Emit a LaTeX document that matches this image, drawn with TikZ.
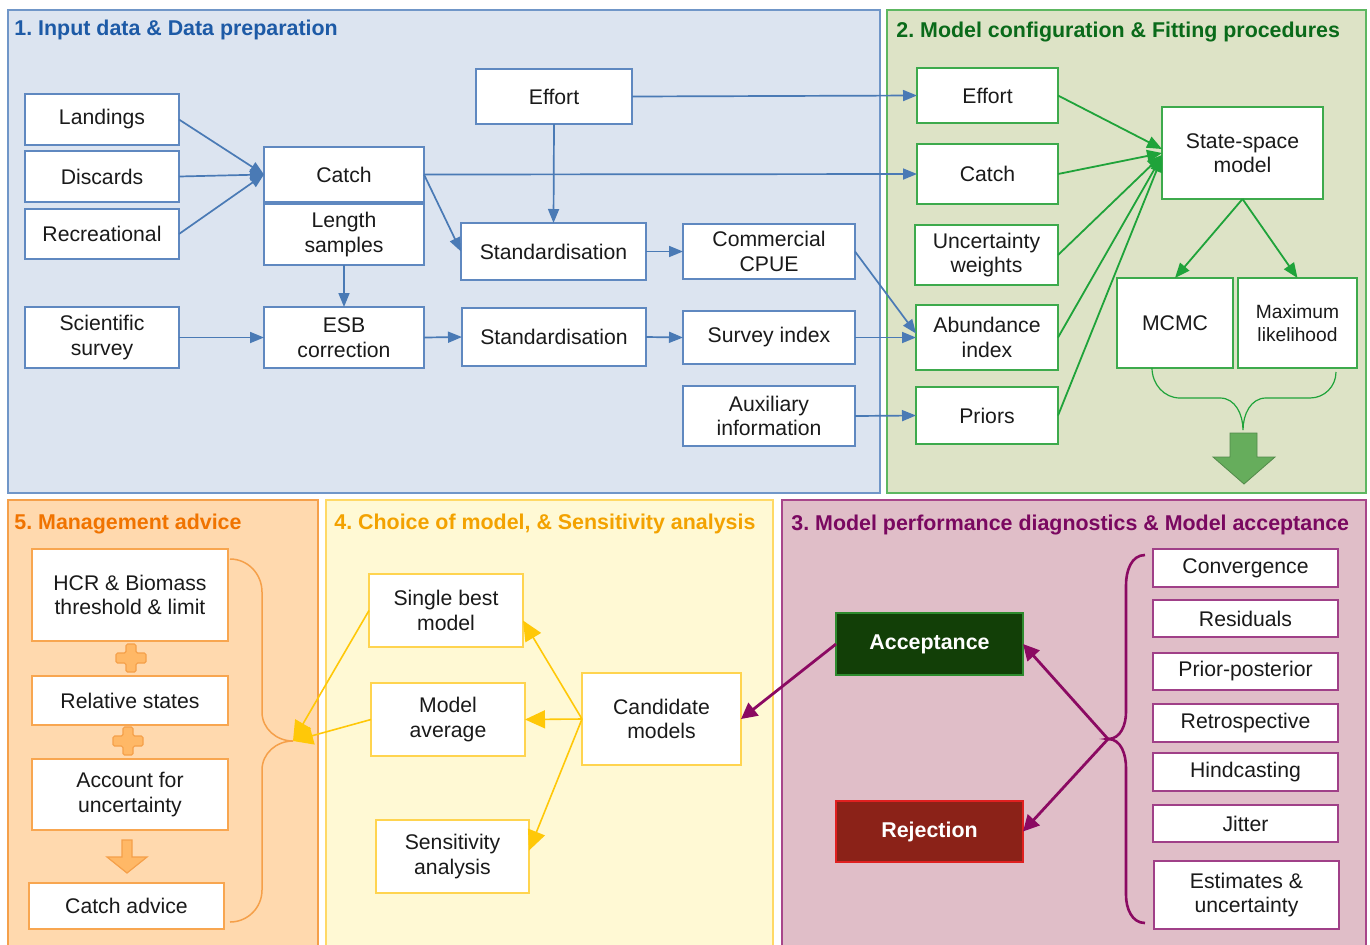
\documentclass[tikz,border=0pt]{standalone}
\usepackage{fontspec}
\setmainfont{Liberation Sans}
\usetikzlibrary{arrows.meta}
\frenchspacing
\definecolor{pAfill}{HTML}{DCE4F0}\definecolor{pAline}{HTML}{7096C8}
\definecolor{pAtxt}{HTML}{1D5AA6}\definecolor{bBox}{HTML}{5F88C0}\definecolor{bArr}{HTML}{4A7AB5}
\definecolor{pBfill}{HTML}{DDE3C6}\definecolor{pBline}{HTML}{5DB761}
\definecolor{pBtxt}{HTML}{0A6A1A}\definecolor{gBox}{HTML}{3DAA4C}\definecolor{gArr}{HTML}{1FA33A}
\definecolor{gBig}{HTML}{66AD5C}
\definecolor{pEfill}{HTML}{FFD9AE}\definecolor{pEline}{HTML}{F5A04A}
\definecolor{pEtxt}{HTML}{F07300}\definecolor{oBox}{HTML}{F8A650}\definecolor{oFill}{HTML}{FFB866}
\definecolor{pDfill}{HTML}{FFF9D4}\definecolor{pDline}{HTML}{FFD966}
\definecolor{pDtxt}{HTML}{F3A200}\definecolor{yBox}{HTML}{FFD44F}\definecolor{yArr}{HTML}{FFC808}
\definecolor{pCfill}{HTML}{E0BEC8}\definecolor{pCline}{HTML}{A8468A}
\definecolor{pCtxt}{HTML}{7A0860}\definecolor{mBox}{HTML}{A04088}\definecolor{mArr}{HTML}{8B0A62}
\definecolor{accFill}{HTML}{123F07}\definecolor{accLine}{HTML}{2E8B2E}
\definecolor{rejFill}{HTML}{8B2218}\definecolor{rejLine}{HTML}{E02020}
\definecolor{txt}{HTML}{1A1A1A}
\newcommand\mkbox[7][]{%
  \pgfmathsetmacro\mkbcx{(#3+#5)/2}\pgfmathsetmacro\mkbcy{(#4+#6)/2}%
  \pgfmathsetmacro\mkbw{(#5-#3)*0.5}\pgfmathsetmacro\mkbh{(#6-#4)*0.5}%
  \node[boxbase,#1,minimum width=\mkbw pt,minimum height=\mkbh pt] (#2) at (\mkbcx,\mkbcy) {#7};}
\begin{document}
\begin{tikzpicture}[x=0.5pt,y=-0.5pt,
  boxbase/.style={rectangle,fill=white,inner sep=0pt,outer sep=0pt,align=center,
     text=txt,font=\fontsize{10.6}{12.2}\selectfont,line width=0.6pt},
  bluebox/.style={draw=bBox},
  greenbox/.style={draw=gBox},
  orangebox/.style={draw=oBox},
  yellowbox/.style={draw=yBox},
  pinkbox/.style={draw=mBox},
  paneltitle/.style={anchor=base west,inner sep=0pt,font=\fontsize{10.7}{12}\selectfont\bfseries},
  barr/.style={draw=bArr,line width=0.85pt,-{Triangle[length=7pt,width=5.5pt]},fill=bArr},
  garr/.style={draw=gArr,line width=0.9pt,-{Triangle[length=7.5pt,width=6pt]},fill=gArr},
  yarr/.style={draw=yArr,line width=0.8pt,-{Triangle[length=10pt,width=9pt]},fill=yArr},
  parr/.style={draw=mArr,line width=1.4pt,-{Triangle[length=8pt,width=8pt]},fill=mArr},
  plusst/.style={draw=pEline,fill=oFill,line width=0.6pt,rounded corners=0.8pt}]
\useasboundingbox (0,0) rectangle (1370,944);
\fill[white] (0,0) rectangle (1370,944);
% panels
\draw[fill=pAfill,draw=pAline,line width=0.75pt] (8,10) rectangle (880,493);
\draw[fill=pBfill,draw=pBline,line width=0.75pt] (887,10) rectangle (1366,493);
\draw[fill=pEfill,draw=pEline,line width=0.75pt] (8,500) rectangle (318,946);
\draw[fill=pDfill,draw=pDline,line width=0.75pt] (326,500) rectangle (773,946);
\draw[fill=pCfill,draw=pCline,line width=0.75pt] (782,500) rectangle (1366,946);
\node[paneltitle,text=pAtxt] (t1) at (14,35) {1. Input data \& Data preparation};
\node[paneltitle,text=pBtxt] (t2) at (896,37) {2. Model configuration \& Fitting procedures};
\node[paneltitle,text=pEtxt] (t5) at (14,529) {5. Management advice};
\node[paneltitle,text=pDtxt] (t4) at (334,529) {4. Choice of model, \& Sensitivity analysis};
\node[paneltitle,text=pCtxt] (t3) at (791,530) {3. Model performance diagnostics \& Model acceptance};
% panel 1
\mkbox[bluebox]{land}{25}{94}{179}{145}{Landings}
\mkbox[bluebox]{disc}{25}{151}{179}{202}{Discards}
\mkbox[bluebox]{recr}{25}{209}{179}{259}{Recreational}
\mkbox[bluebox]{catch}{264}{147}{424}{202}{Catch}
\mkbox[bluebox]{len}{264}{204}{424}{265}{Length\\samples}
\mkbox[bluebox]{sci}{25}{307}{179}{368}{Scientific\\survey}
\mkbox[bluebox]{esb}{264}{307}{424}{368}{ESB\\correction}
\mkbox[bluebox]{eff}{476}{69}{632}{124}{Effort}
\mkbox[bluebox]{std1}{461}{223}{646}{280}{Standardisation}
\mkbox[bluebox]{cpue}{683}{224}{855}{279}{Commercial\\CPUE}
\mkbox[bluebox]{std2}{462}{308}{646}{366}{Standardisation}
\mkbox[bluebox]{surv}{683}{311}{855}{364}{Survey index}
\mkbox[bluebox]{aux}{683}{386}{855}{446}{Auxiliary\\information}
% panel 2
\mkbox[greenbox]{eff2}{917}{68}{1058}{123}{Effort}
\mkbox[greenbox]{catch2}{917}{144}{1058}{204}{Catch}
\mkbox[greenbox]{unc}{915}{225}{1058}{285}{Uncertainty\\weights}
\mkbox[greenbox]{abund}{916}{305}{1058}{370}{Abundance\\index}
\mkbox[greenbox]{pri}{916}{387}{1058}{444}{Priors}
\mkbox[greenbox]{ssm}{1162}{107}{1323}{199}{State-space\\model}
\mkbox[greenbox]{mcmc}{1117}{278}{1233}{368}{MCMC}
\mkbox[greenbox,font=\fontsize{9.6}{11.4}\selectfont]{ml}{1238}{278}{1357}{368}{Maximum\\likelihood}
% panel 5
\mkbox[orangebox]{hcr}{32}{549}{228}{641}{HCR \& Biomass\\threshold \& limit}
\mkbox[orangebox]{rel}{32}{676}{228}{725}{Relative states}
\mkbox[orangebox]{acu}{32}{759}{228}{830}{Account for\\uncertainty}
\mkbox[orangebox]{cadv}{29}{883}{224}{929}{Catch advice}
% panel 4
\mkbox[yellowbox]{sbm}{369}{574}{523}{647}{Single best\\model}
\mkbox[yellowbox]{mavg}{371}{683}{525}{756}{Model\\average}
\mkbox[yellowbox]{sens}{376}{820}{529}{893}{Sensitivity\\analysis}
\mkbox[yellowbox]{cand}{582}{673}{741}{765}{Candidate\\models}
% panel 3
\mkbox[fill=accFill,draw=accLine,text=white,font=\fontsize{10.7}{12}\selectfont\bfseries]{acc}{836}{613}{1023}{675}{Acceptance}
\mkbox[fill=rejFill,draw=rejLine,text=white,font=\fontsize{10.7}{12}\selectfont\bfseries]{rej}{836}{801}{1023}{862}{Rejection}
\mkbox[pinkbox]{conv}{1153}{549}{1338}{587}{Convergence}
\mkbox[pinkbox]{resid}{1153}{600}{1338}{637}{Residuals}
\mkbox[pinkbox]{ppost}{1153}{653}{1338}{690}{Prior-posterior}
\mkbox[pinkbox]{retro}{1153}{704}{1338}{742}{Retrospective}
\mkbox[pinkbox]{hind}{1153}{753}{1338}{791}{Hindcasting}
\mkbox[pinkbox]{jit}{1153}{805}{1338}{842}{Jitter}
\mkbox[pinkbox]{est}{1154}{861}{1339}{929}{Estimates \&\\uncertainty}
% blue connectors
\draw[barr] (land.east) -- (catch.west);
\draw[barr] (disc.east) -- (catch.west);
\draw[barr] (recr.east) -- (catch.west);
\draw[barr] (catch.east) -- (catch2.west);
\draw[barr] (catch.east) -- (std1.west);
\draw[barr] (eff.south) -- (std1.north);
\draw[barr] (eff.east) -- (eff2.west);
\draw[barr] (std1.east) -- (cpue.west);
\draw[barr] (cpue.east) -- ([yshift=2pt]abund.west);
\draw[barr] (len.south) -- (esb.north);
\draw[barr] (sci.east) -- (esb.west);
\draw[barr] (esb.east) -- (std2.west);
\draw[barr] (std2.east) -- (surv.west);
\draw[barr] (surv.east) -- (abund.west);
\draw[barr] (aux.east) -- (pri.west);
% green connectors
\draw[garr] (eff2.east) -- ([yshift=2pt]ssm.west);
\draw[garr] (catch2.east) -- (ssm.west);
\draw[garr] (unc.east) -- ([yshift=-1pt]ssm.west);
\draw[garr] (abund.east) -- ([yshift=-1.5pt]ssm.west);
\draw[garr] (pri.east) -- ([yshift=-2pt]ssm.west);
\draw[garr] (ssm.south) -- (mcmc.north);
\draw[garr] (ssm.south) -- (ml.north);
\draw[draw=gArr,line width=0.6pt] (1152,368) to[out=-90,in=180] (1180,398) -- (1220,398)
   to[out=0,in=90] (1243,430) to[out=90,in=180] (1266,398) -- (1310,398) to[out=0,in=-90] (1336,372);
\draw[fill=gBig,draw=gBig!80!black,line width=0.4pt] (1230,433) -- (1257,433) -- (1257,457) -- (1275,457)
   -- (1244,484) -- (1213,457) -- (1230,457) -- cycle;
% panel 5 decorations
\draw[plusst,shift={(131,658)}] (-5,-14) -- (5,-14) -- (5,-5) -- (15,-5) -- (15,5) -- (5,5) -- (5,14)
   -- (-5,14) -- (-5,5) -- (-15,5) -- (-15,-5) -- (-5,-5) -- cycle;
\draw[plusst,shift={(128,741)}] (-5,-14) -- (5,-14) -- (5,-5) -- (15,-5) -- (15,5) -- (5,5) -- (5,14)
   -- (-5,14) -- (-5,5) -- (-15,5) -- (-15,-5) -- (-5,-5) -- cycle;
\draw[plusst,rounded corners=0pt] (122,840) -- (132,840) -- (132,857) -- (147,857) -- (127,873)
   -- (107,857) -- (122,857) -- cycle;
\coordinate (bp5) at (293,741);
\draw[draw=pEline,line width=0.75pt] (230,559) to[out=0,in=90] (262,592) -- (262,712)
   to[out=-90,in=180] (bp5) to[out=180,in=90] (262,770) -- (262,890) to[out=-90,in=0] (230,922);
% yellow connectors
\draw[yarr] (cand.west) -- ([yshift=-5pt]sbm.east);
\draw[yarr] (cand.west) -- (mavg.east);
\draw[yarr] (cand.west) -- ([yshift=3pt]sens.east);
\draw[yarr] (sbm.west) -- (bp5);
\draw[yarr] (mavg.west) -- (bp5);
% purple
\coordinate (bp3) at (1108,739);
\draw[draw=mArr,line width=1.3pt] (1145,555) to[out=180,in=90] (1126,585) -- (1126,712)
   to[out=-90,in=0] (bp3) to[out=0,in=90] (1126,768) -- (1126,895) to[out=-90,in=180] (1145,923);
\draw[parr] (bp3) -- (acc.east);
\draw[parr] (bp3) -- (rej.east);
\draw[parr] (acc.west) -- (cand.east);
\end{tikzpicture}
\end{document}
